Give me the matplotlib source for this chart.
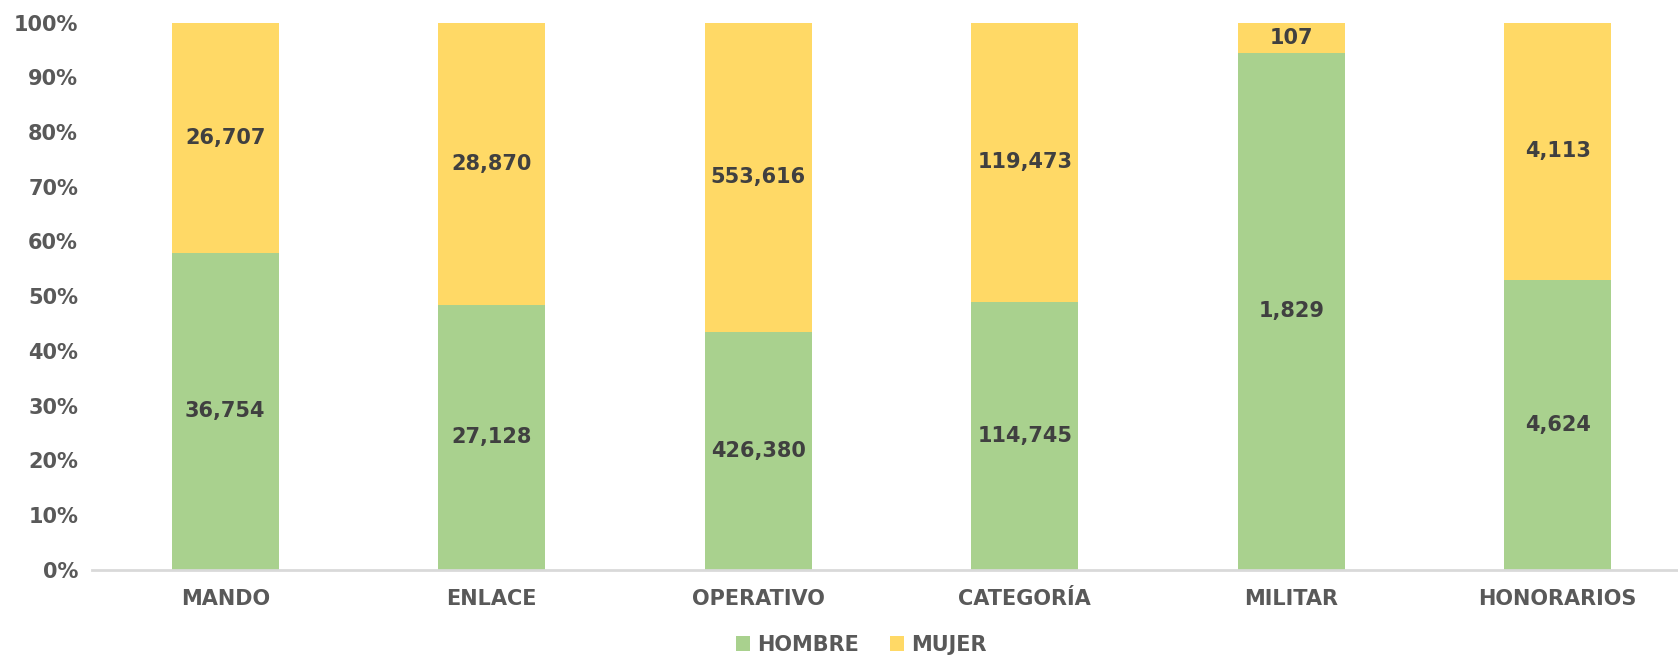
import matplotlib.pyplot as plt
import numpy as np

categories = ['MANDO', 'ENLACE', 'OPERATIVO', 'CATEGORÍA', 'MILITAR', 'HONORARIOS']
hombre = [36754, 27128, 426380, 114745, 1829, 4624]
mujer = [26707, 28870, 553616, 119473, 107, 4113]
series_names = ['HOMBRE', 'MUJER']

plt.rcParams['font.family'] = ['DejaVu Sans']
plt.rcParams['font.weight'] = 'bold'

h = np.array(hombre, dtype=float)
m = np.array(mujer, dtype=float)
total = h + m
h_pct = h / total * 100
m_pct = m / total * 100

green = '#A9D18E'
yellow = '#FFD966'
tick_color = '#595959'
label_color = '#404040'

fig = plt.figure(figsize=(16.78, 6.55), dpi=100)
ax = fig.add_axes([92 / 1678, 0.130, 1599 / 1678, 0.8356])

x = np.arange(len(categories))
ax.bar(x, h_pct, width=0.4, color=green, label=series_names[0])
ax.bar(x, m_pct, width=0.4, bottom=h_pct, color=yellow, label=series_names[1])

for i in range(len(categories)):
    ax.text(x[i], h_pct[i] / 2, f'{hombre[i]:,}', ha='center', va='center',
            fontsize=15, fontweight='bold', color=label_color)
    ax.text(x[i], h_pct[i] + m_pct[i] / 2, f'{mujer[i]:,}', ha='center', va='center',
            fontsize=15, fontweight='bold', color=label_color)

ax.set_xlim(-0.5, len(categories) - 0.5)
ax.set_ylim(0, 100)
ax.set_yticks(np.arange(0, 101, 10))
ax.set_yticklabels([f'{v}%' for v in range(0, 101, 10)])
ax.set_xticks(x)
ax.set_xticklabels(categories)
ax.tick_params(axis='both', length=0, labelsize=15, labelcolor=tick_color)
ax.tick_params(axis='x', pad=14)
ax.tick_params(axis='y', pad=10)

for s in ['top', 'right', 'left']:
    ax.spines[s].set_visible(False)
ax.spines['bottom'].set_color('#D9D9D9')
ax.spines['bottom'].set_linewidth(2)

leg = fig.legend(loc='center', bbox_to_anchor=(861 / 1678, 10 / 655), ncol=2, frameon=False,
                 fontsize=15, handlelength=0.7, handleheight=0.7, handletextpad=0.3,
                 columnspacing=1.5)
for t in leg.get_texts():
    t.set_color(tick_color)
    t.set_fontweight('bold')

fig.savefig('out.png', dpi=100)
